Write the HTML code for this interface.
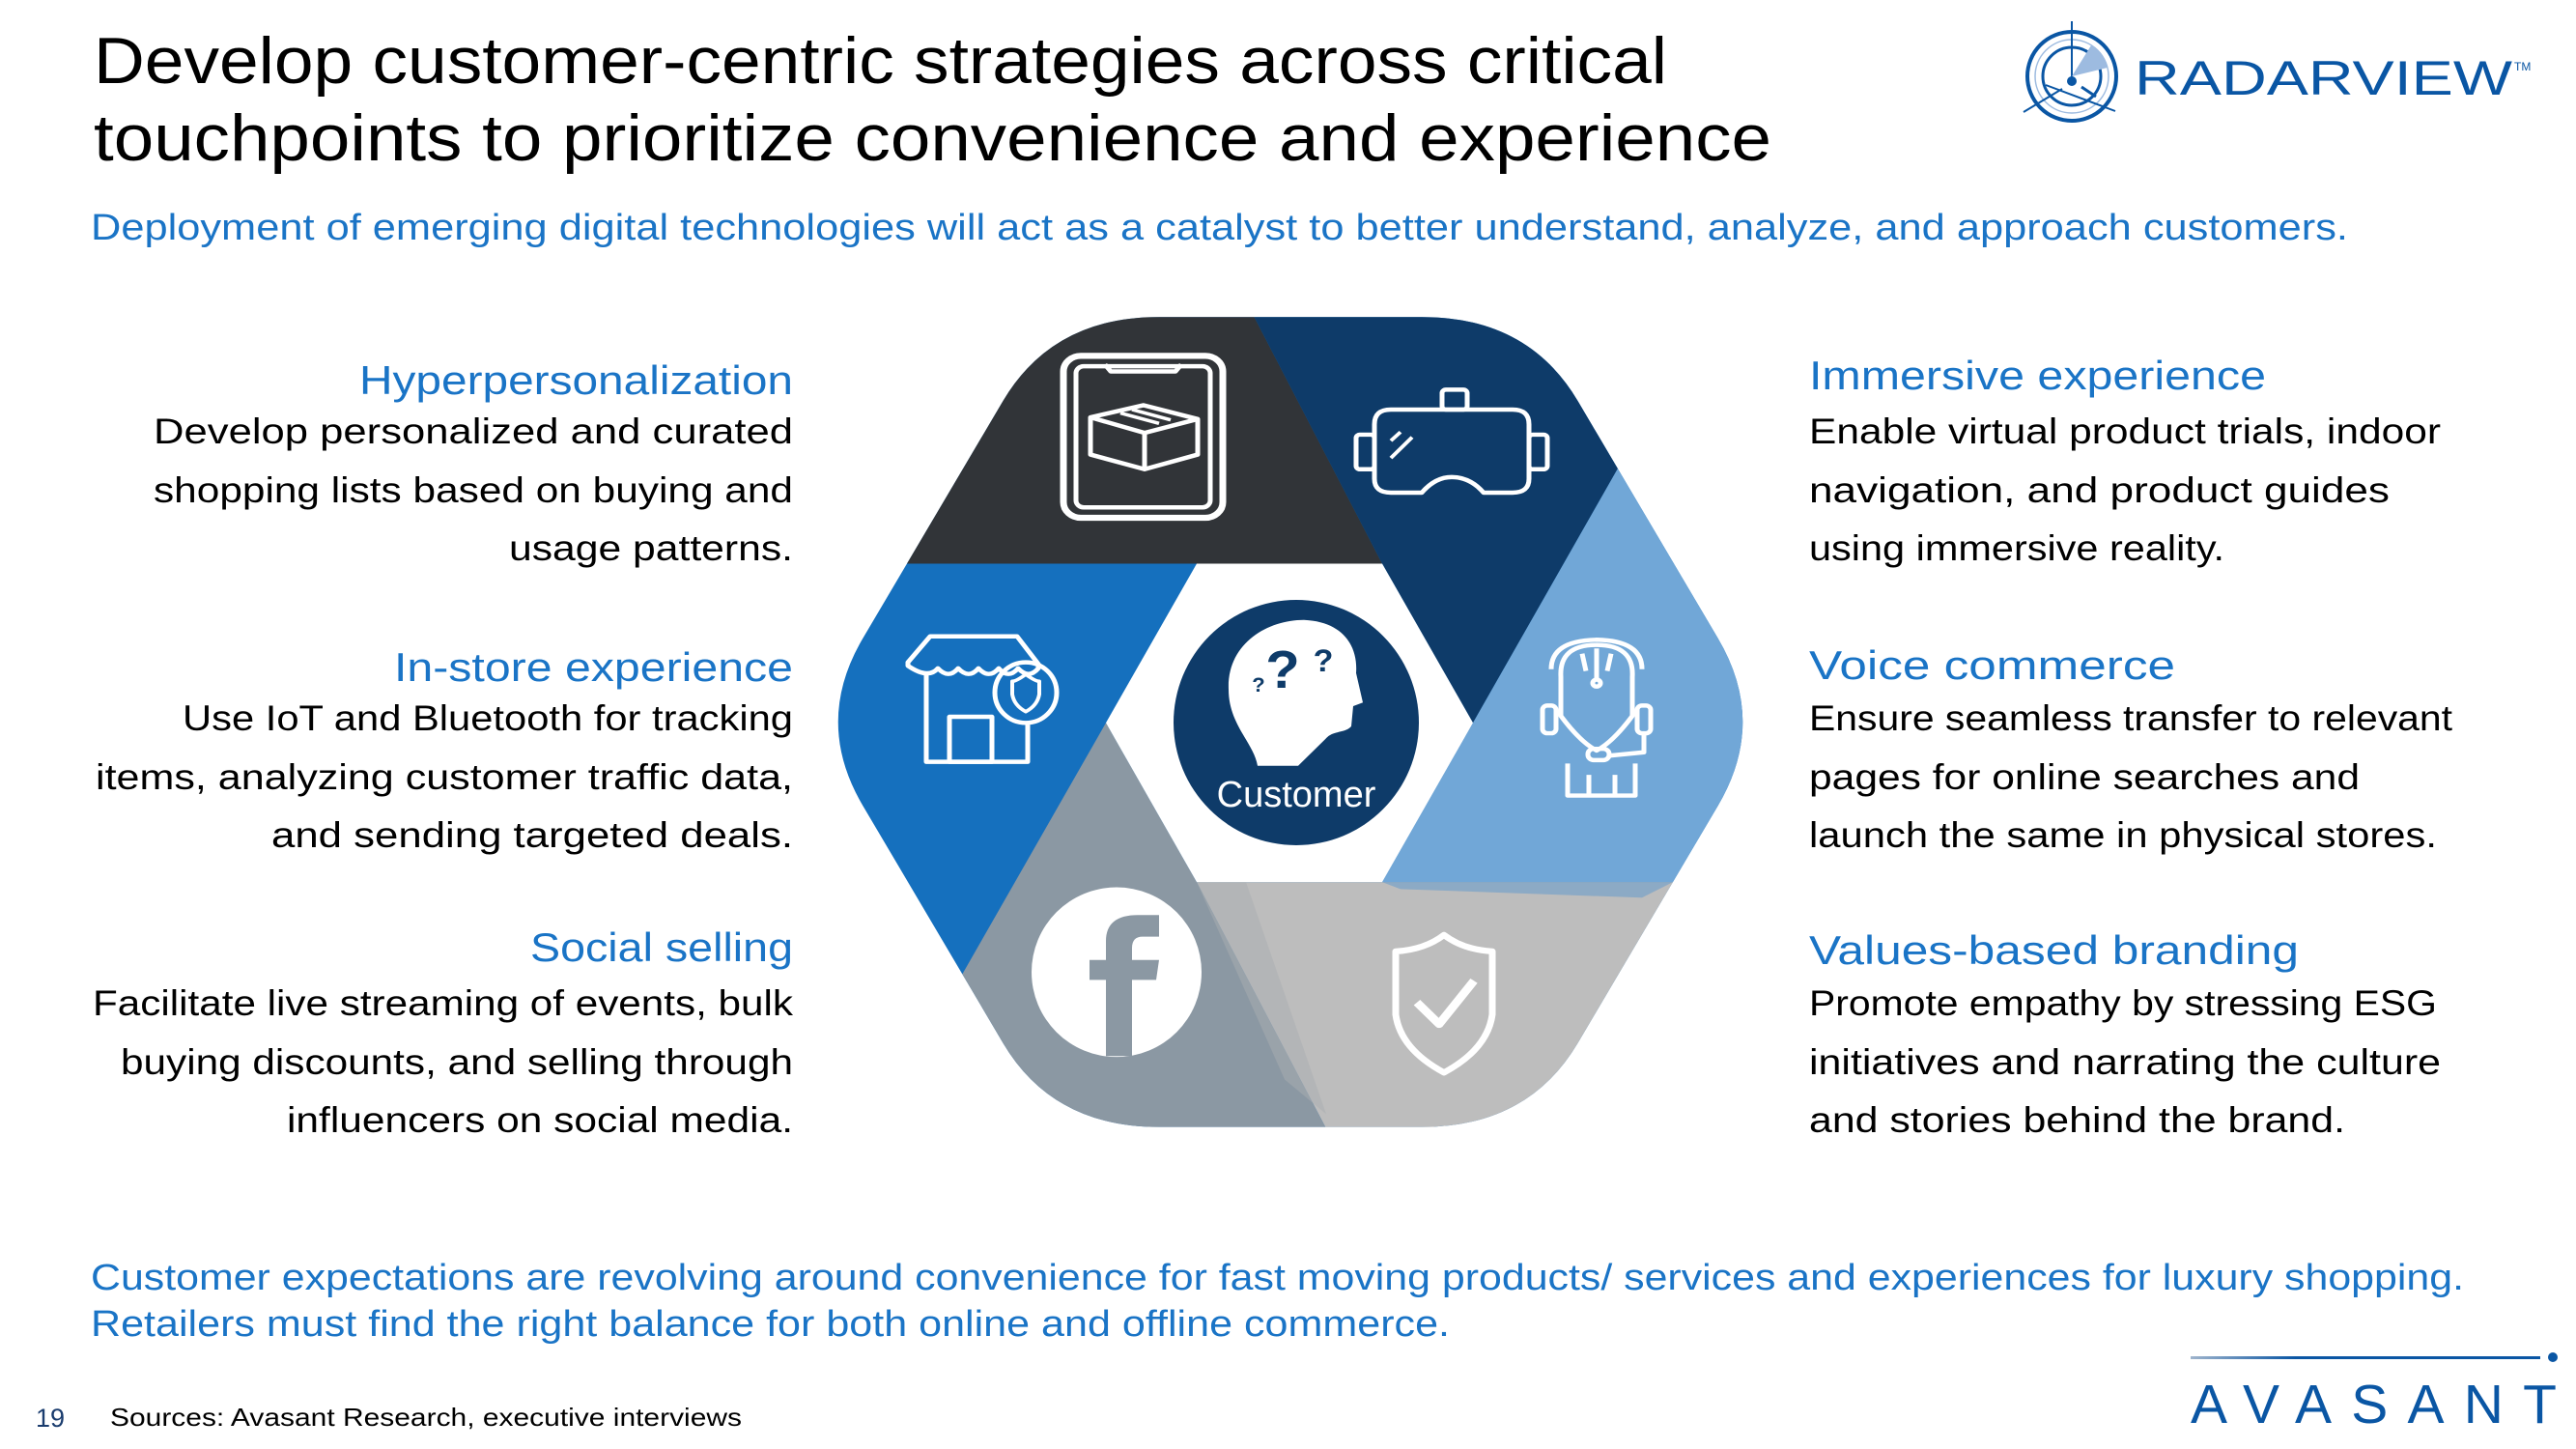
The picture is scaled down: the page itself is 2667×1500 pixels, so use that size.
<!DOCTYPE html>
<html><head><meta charset="utf-8"><style>
html,body{margin:0;padding:0;background:#fff;}
svg{display:block;}
text{font-family:"Liberation Sans",sans-serif;}
</style></head><body>
<svg width="2667" height="1500" viewBox="0 0 2667 1500" xmlns="http://www.w3.org/2000/svg">
<defs>
<clipPath id="hex"><path d="M1200 329 L1472 329 Q1582 329 1633.5 426 L1778.5 700 Q1830 797 1778.5 894 L1633.5 1168 Q1582 1265 1472 1265 L1200 1265 Q1090 1265 1038.5 1168 L893.5 894 Q842 797 893.5 700 L1038.5 426 Q1090 329 1200 329 Z"/></clipPath>
<linearGradient id="lg" x1="0" x2="1"><stop offset="0" stop-color="#9fb4cc"/><stop offset="0.3" stop-color="#0a56a4"/><stop offset="1" stop-color="#0a56a4"/></linearGradient>
</defs>
<!-- Title -->
<text x="97" y="86" font-size="68" fill="#000" textLength="1629" lengthAdjust="spacingAndGlyphs">Develop customer-centric strategies across critical</text>
<text x="97" y="166" font-size="68" fill="#000" textLength="1737" lengthAdjust="spacingAndGlyphs">touchpoints to prioritize convenience and experience</text>
<text x="94" y="248" font-size="38" fill="#1a74c6" textLength="2337" lengthAdjust="spacingAndGlyphs">Deployment of emerging digital technologies will act as a catalyst to better understand, analyze, and approach customers.</text>

<!-- RADARVIEW logo -->
<g stroke="#0a56a4" fill="none">
<circle cx="2145" cy="79" r="46" stroke-width="4"/>
<circle cx="2145" cy="79" r="30" stroke-width="3"/>
<circle cx="2145" cy="79" r="38" stroke-width="1.5" stroke="#9dbbe0"/>
<line x1="2145" y1="22" x2="2145" y2="84" stroke-width="2"/>
<line x1="2095" y1="116" x2="2135" y2="92" stroke-width="2"/>
<line x1="2118" y1="88" x2="2190" y2="115" stroke-width="2"/>
<line x1="2155" y1="90" x2="2170" y2="100" stroke-width="3"/>
</g>
<path d="M2145 79 L2165 47 A38 38 0 0 1 2182 70 Z" fill="#9dbbe0"/>
<circle cx="2145" cy="84" r="5" fill="#0a56a4"/>
<text x="2210" y="98" font-size="50" fill="#0a56a4" textLength="391" lengthAdjust="spacingAndGlyphs">RADARVIEW</text>
<text x="2603" y="73" font-size="12" fill="#0a56a4">TM</text>

<!-- Hexagon (drawn in stretched coords, compressed vertically) -->
<g transform="matrix(1,0,0,0.896,0,33.3)">
<g clip-path="url(#hex)">
<rect x="830" y="320" width="1010" height="960" fill="#1570be"/>
<polygon points="900,614 1090,300 1285,300 1431,614" fill="#313438"/>
<polygon points="1285,300 1600,300 1860,504 1675,504 1525,798 1431,614" fill="#0e3b69"/>
<polygon points="1675,504 1860,504 1860,982 1431,982 1525,798" fill="#71a7d7"/>
<polygon points="1860,982 1860,1290 1384,1290 1239,982" fill="#bdbdbd"/>
<polygon points="1384,1290 820,1290 820,1089 996,1089 1145,798 1239,982" fill="#8b98a3"/>
<polygon points="1431,982 1732,982 1700,1000 1450,990" fill="#6a9dc9" opacity="0.6"/>
<polygon points="1239,982 1290,982 1373,1250 1330,1210" fill="#a9adb1" opacity="0.5"/>
</g>
<polygon points="1239,614 1431,614 1525,798 1431,982 1239,982 1145,798" fill="#fff"/>

<!-- phone icon -->
<g stroke="#fff" stroke-width="7" fill="none" stroke-linejoin="round">
<rect x="1101" y="374" width="165" height="187" rx="18"/>
<rect x="1114" y="386" width="139" height="163" rx="8" stroke-width="5"/>
<path d="M1144 384 L1150 392 L1217 392 L1223 384" stroke-width="5"/>
<path d="M1129 445 L1184 431 L1240 447 L1185 463 Z M1129 445 L1129 488 L1185 505 L1240 488 L1240 447 M1185 463 L1185 505" stroke-width="5"/>
<path d="M1160 440 L1200 452 M1172 436 L1212 448" stroke-width="4"/>
</g>
<!-- VR icon -->
<g stroke="#fff" stroke-width="5" fill="none" stroke-linejoin="round">
<rect x="1493" y="413" width="26" height="23" rx="4"/>
<path d="M1440 436 L1566 436 Q1583 436 1583 453 L1583 516 Q1583 532 1566 532 L1536 532 Q1522 514 1503 514 Q1486 514 1472 532 L1440 532 Q1423 532 1423 516 L1423 453 Q1423 436 1440 436 Z"/>
<rect x="1404" y="465" width="19" height="40" rx="4"/>
<rect x="1583" y="465" width="19" height="40" rx="4"/>
<path d="M1440 472 L1450 462 M1440 492 L1462 468" stroke-width="4"/>
</g>
<!-- store icon -->
<g stroke="#fff" stroke-width="5" fill="none" stroke-linejoin="round">
<path d="M963 698 L1053 698 L1075 730 L1075 735 Q1065 748 1054 735 Q1044 748 1034 735 Q1024 748 1013 735 Q1003 748 992 735 Q982 748 971 735 Q961 748 940 732 L940 728 Z"/>
<path d="M959 742 L959 843 L1064 843 L1064 800"/>
<rect x="983" y="791" width="44" height="52"/>
<ellipse cx="1062" cy="763" rx="32" ry="35"/>
<path d="M1062 742 Q1052 750 1048 750 L1048 765 Q1050 778 1062 785 Q1074 778 1076 765 L1076 750 Q1072 750 1062 742 Z" stroke-width="4"/>
</g>
<!-- headset icon -->
<g stroke="#fff" stroke-width="5" fill="none" stroke-linejoin="round">
<path d="M1606 736 Q1606 703 1653 702 Q1700 703 1700 736"/>
<path d="M1616 745 Q1614 708 1653 708 Q1692 708 1690 745 L1690 790 Q1670 820 1653 830 Q1636 820 1616 790 Z"/>
<rect x="1597" y="778" width="14" height="32" rx="5"/>
<rect x="1695" y="778" width="14" height="32" rx="5"/>
<path d="M1702 810 L1702 832 L1665 836"/>
<rect x="1644" y="828" width="22" height="13" rx="6"/>
<path d="M1623 845 L1623 882 L1693 882 L1693 845 M1645 858 L1645 882 M1672 858 L1672 882 M1653 712 L1653 748 M1638 718 L1642 738 M1668 718 L1664 738"/>
<circle cx="1653" cy="752" r="4"/>
</g>
<!-- facebook -->
<ellipse cx="1156" cy="1086" rx="88" ry="98" fill="#fff"/>
<path d="M1145 1183 L1145 1095 L1128 1095 L1128 1072 L1145 1072 L1145 1050 Q1145 1020 1178 1020 L1200 1020 L1200 1045 L1183 1045 Q1172 1045 1172 1058 L1172 1072 L1200 1072 L1197 1095 L1172 1095 L1172 1183 Z" fill="#8b98a3"/>
<!-- shield -->
<g stroke="#fff" stroke-width="7" fill="none" stroke-linejoin="round">
<path d="M1495 1043 Q1475 1060 1445 1062 L1445 1135 Q1450 1175 1495 1202 Q1540 1175 1545 1135 L1545 1062 Q1515 1060 1495 1043 Z"/>
<path d="M1467 1121 L1490 1146 L1526 1096" stroke-width="9"/>
</g>
</g>

<!-- center circle -->
<circle cx="1342" cy="748" r="127" fill="#0e3b69"/>
<g transform="matrix(1,0,0,0.95,0,-10)">
<path d="M1302 845 C1298 820 1272 800 1272 762 C1270 712 1312 686 1350 686 C1392 688 1406 716 1404 744 L1411 776 L1401 780 L1399 802 C1392 810 1380 806 1372 816 L1344 845 Z" fill="#fff"/>
<text x="1328" y="760" font-size="58" font-weight="bold" fill="#0e3b69" text-anchor="middle">?</text>
<text x="1370" y="742" font-size="34" font-weight="bold" fill="#0e3b69" text-anchor="middle">?</text>
<text x="1303" y="764" font-size="22" font-weight="bold" fill="#0e3b69" text-anchor="middle">?</text>
</g>
<text x="1342" y="835" font-size="38" fill="#fff" text-anchor="middle">Customer</text>

<!-- Left column -->
<g text-anchor="end">
<text x="821" y="408" font-size="42" fill="#1a74c6" textLength="449" lengthAdjust="spacingAndGlyphs">Hyperpersonalization</text>
<text x="821" y="459" font-size="37" fill="#000" textLength="662" lengthAdjust="spacingAndGlyphs">Develop personalized and curated</text>
<text x="821" y="520" font-size="37" fill="#000" textLength="662" lengthAdjust="spacingAndGlyphs">shopping lists based on buying and</text>
<text x="821" y="580" font-size="37" fill="#000" textLength="294" lengthAdjust="spacingAndGlyphs">usage patterns.</text>
<text x="821" y="705" font-size="42" fill="#1a74c6" textLength="413" lengthAdjust="spacingAndGlyphs">In-store experience</text>
<text x="821" y="756" font-size="37" fill="#000" textLength="632" lengthAdjust="spacingAndGlyphs">Use IoT and Bluetooth for tracking</text>
<text x="821" y="817" font-size="37" fill="#000" textLength="722" lengthAdjust="spacingAndGlyphs">items, analyzing customer traffic data,</text>
<text x="821" y="877" font-size="37" fill="#000" textLength="540" lengthAdjust="spacingAndGlyphs">and sending targeted deals.</text>
<text x="821" y="995" font-size="42" fill="#1a74c6" textLength="272" lengthAdjust="spacingAndGlyphs">Social selling</text>
<text x="821" y="1051" font-size="37" fill="#000" textLength="725" lengthAdjust="spacingAndGlyphs">Facilitate live streaming of events, bulk</text>
<text x="821" y="1112" font-size="37" fill="#000" textLength="696" lengthAdjust="spacingAndGlyphs">buying discounts, and selling through</text>
<text x="821" y="1172" font-size="37" fill="#000" textLength="524" lengthAdjust="spacingAndGlyphs">influencers on social media.</text>
</g>
<!-- Right column -->
<g>
<text x="1873" y="403" font-size="42" fill="#1a74c6" textLength="473" lengthAdjust="spacingAndGlyphs">Immersive experience</text>
<text x="1873" y="459" font-size="37" fill="#000" textLength="654" lengthAdjust="spacingAndGlyphs">Enable virtual product trials, indoor</text>
<text x="1873" y="520" font-size="37" fill="#000" textLength="601" lengthAdjust="spacingAndGlyphs">navigation, and product guides</text>
<text x="1873" y="580" font-size="37" fill="#000" textLength="430" lengthAdjust="spacingAndGlyphs">using immersive reality.</text>
<text x="1873" y="703" font-size="42" fill="#1a74c6" textLength="379" lengthAdjust="spacingAndGlyphs">Voice commerce</text>
<text x="1873" y="756" font-size="37" fill="#000" textLength="666" lengthAdjust="spacingAndGlyphs">Ensure seamless transfer to relevant</text>
<text x="1873" y="817" font-size="37" fill="#000" textLength="570" lengthAdjust="spacingAndGlyphs">pages for online searches and</text>
<text x="1873" y="877" font-size="37" fill="#000" textLength="650" lengthAdjust="spacingAndGlyphs">launch the same in physical stores.</text>
<text x="1873" y="998" font-size="42" fill="#1a74c6" textLength="507" lengthAdjust="spacingAndGlyphs">Values-based branding</text>
<text x="1873" y="1051" font-size="37" fill="#000" textLength="650" lengthAdjust="spacingAndGlyphs">Promote empathy by stressing ESG</text>
<text x="1873" y="1112" font-size="37" fill="#000" textLength="654" lengthAdjust="spacingAndGlyphs">initiatives and narrating the culture</text>
<text x="1873" y="1172" font-size="37" fill="#000" textLength="555" lengthAdjust="spacingAndGlyphs">and stories behind the brand.</text>
</g>

<!-- bottom -->
<text x="94" y="1335" font-size="38" fill="#1a74c6" textLength="2457" lengthAdjust="spacingAndGlyphs">Customer expectations are revolving around convenience for fast moving products/ services and experiences for luxury shopping.</text>
<text x="94" y="1383" font-size="38" fill="#1a74c6" textLength="1407" lengthAdjust="spacingAndGlyphs">Retailers must find the right balance for both online and offline commerce.</text>

<text x="37" y="1477" font-size="27" fill="#1a3c6e">19</text>
<text x="114" y="1476" font-size="26" fill="#000" textLength="654" lengthAdjust="spacingAndGlyphs">Sources: Avasant Research, executive interviews</text>

<!-- AVASANT logo -->
<rect x="2268" y="1404" width="362" height="3" fill="url(#lg)"/>
<circle cx="2643" cy="1405" r="5" fill="#0a56a4"/>
<text x="2268" y="1473" font-size="57" fill="#0a56a4" textLength="379" lengthAdjust="spacing">AVASANT</text>
</svg>
</body></html>
